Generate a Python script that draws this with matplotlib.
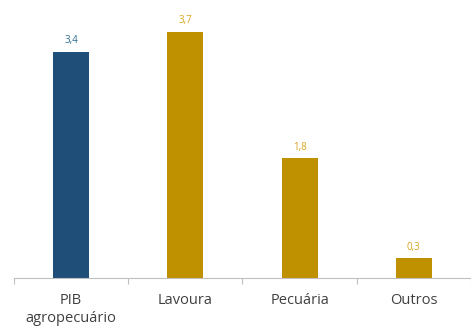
import numpy as np
import matplotlib.pyplot as plt

categories = ['PIB\nagropecuário', 'Lavoura', 'Pecuária', 'Outros']
values = [3.4, 3.7, 1.8, 0.3]
bar_colors = ['#1F4E79', '#BF9000', '#BF9000', '#BF9000']
label_colors = ['#2F7191', '#D9A520', '#D9A520', '#D9A520']

plt.rcParams['font.family'] = ['Open Sans', 'DejaVu Sans']

fig = plt.figure(figsize=(4.71, 3.27), dpi=100)
ax = fig.add_axes([0.0297, 0.1498, 0.9703, 0.8502])

x = np.arange(len(categories))
bars = ax.bar(x, values, width=0.315, color=bar_colors, zorder=2)

for b, v, c in zip(bars, values, label_colors):
    ax.annotate(f'{v:.1f}'.replace('.', ','), (b.get_x() + b.get_width() / 2, v),
                xytext=(0, 4), textcoords='offset points', ha='center', va='bottom',
                fontsize=7, color=c)

ax.set_xlim(-0.5, 3.5)
ax.set_ylim(0, 4.18)

ax.set_xticks(np.arange(-0.5, 3.6, 1.0))
ax.set_xticklabels([])
ax.tick_params(axis='x', which='major', length=4, color='#BFBFBF', width=0.8)
ax.set_xticks(x, minor=True)
ax.set_xticklabels(categories, minor=True, fontsize=10.5, color='#404040', linespacing=1.25)
ax.tick_params(axis='x', which='minor', length=0, pad=11)

ax.set_yticks([])
for s in ['top', 'right', 'left']:
    ax.spines[s].set_visible(False)
ax.spines['bottom'].set_color('#BFBFBF')
ax.spines['bottom'].set_linewidth(0.8)

fig.savefig('out.png', dpi=100)
